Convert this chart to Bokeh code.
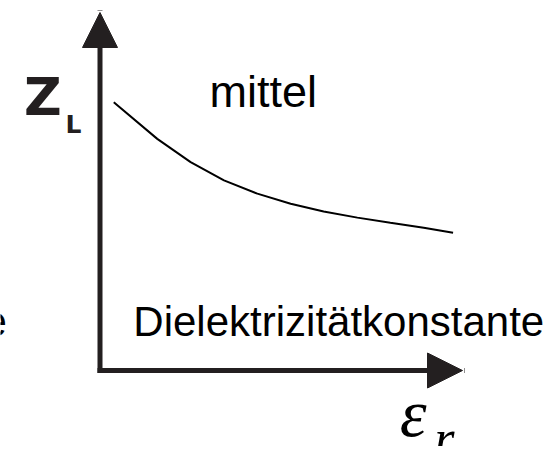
from bokeh.plotting import figure
from bokeh.models import Range1d, Arrow, NormalHead, Label, ColumnDataSource
from bokeh.embed import file_html
from bokeh.resources import INLINE

# Curve: characteristic impedance Z_L vs. relative permittivity (arbitrary units)
eps_r = [0.38, 1.58, 2.50, 3.42, 4.34, 5.26, 6.17, 7.10, 8.01, 8.93, 9.74]
z_l = [7.49, 6.47, 5.82, 5.31, 4.94, 4.66, 4.44, 4.27, 4.13, 3.99, 3.85]

# Axis extents (data units)
axis_x = [0, 10]
axis_y = [0, 10]

W, H = 547, 446
px_x = 36.25
px_y = 35.8
x0 = -99.5 / px_x
y0 = -(H - 370) / px_y

p = figure(width=W, height=H, output_backend="svg", toolbar_location=None,
           x_range=Range1d(x0, x0 + W / px_x), y_range=Range1d(y0, y0 + H / px_y),
           min_border=0, outline_line_color=None)
p.axis.visible = False
p.grid.visible = False

axis_col = "#231f20"

p.add_layout(Arrow(x_start=axis_x[0], y_start=axis_y[0], x_end=axis_x[0], y_end=axis_y[1],
                   line_width=5, line_color=axis_col, line_cap="square",
                   end=NormalHead(size=35, fill_color=axis_col, line_color=axis_col, line_width=1)))
p.add_layout(Arrow(x_start=axis_x[0], y_start=axis_y[0], x_end=axis_x[1], y_end=axis_y[0],
                   line_width=5, line_color=axis_col, line_cap="square",
                   end=NormalHead(size=35, fill_color=axis_col, line_color=axis_col, line_width=1)))

src = ColumnDataSource(dict(x=eps_r, y=z_l))
p.line("x", "y", source=src, line_color="black", line_width=2)


def lab(x, y, text, font, size, style="normal", color="black", align="left"):
    p.add_layout(Label(x=x, y=y, text=text, text_font=font, text_font_style=style,
                       text_font_size=f"{size}px", text_color=color, text_align=align,
                       text_baseline="alphabetic", y_offset=round(0.36 * size)))


lab(3.02, 7.35, "mittel", "Liberation Sans", 45)
lab(0.92, 0.95, "Dielektrizitätkonstante", "Liberation Sans", 42)
# tail of the neighbouring panel's label, cut by the left edge
lab(-2.57, 0.95, "Dielektrizitätkonstante", "Liberation Sans", 42, align="right")
lab(-2.10, 7.12, "Z", "DejaVu Sans", 52, "bold", axis_col)
lab(-0.95, 6.62, "L", "DejaVu Sans", 25, "bold", axis_col)
lab(8.27, -1.87, "ε", "Liberation Serif", 68, "italic")
lab(9.22, -2.42, "r", "Liberation Serif", 52, "italic")

open("out.html", "w").write(file_html(p, INLINE))
